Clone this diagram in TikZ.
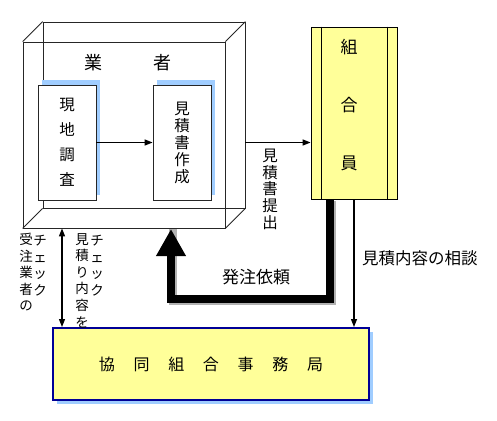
\documentclass[tikz,border=0pt]{standalone}
\usepackage{fontspec}
\newfontfamily\jpfont{Noto Sans CJK JP}
\usepackage{xcolor}
\usetikzlibrary{arrows.meta, positioning, shadows}
\definecolor{paleyellow}{RGB}{255,255,153}
\definecolor{paleblue}{RGB}{160,205,255}
\definecolor{deepblue}{RGB}{0,0,150}
\tikzset{
  % 3D box of the contractor
  face/.style={rectangle, draw=black!85, line width=0.8pt, minimum width=202pt, minimum height=186pt, inner sep=0pt},
  % work steps inside the box
  task/.style={rectangle, draw=black!85, line width=0.8pt, fill=white, minimum width=58pt, minimum height=115pt, inner sep=0pt, align=center, font=\jpfont\fontsize{15.5}{#1}\selectfont, drop shadow={shadow xshift=4pt, shadow yshift=5pt, fill=paleblue, opacity=1}},
  task/.default={17pt},
  member/.style={rectangle, draw=black, line width=0.8pt, fill=paleyellow, minimum width=86pt, minimum height=172pt, inner sep=0pt},
  office/.style={rectangle, draw=deepblue, line width=2pt, fill=paleyellow, minimum width=316pt, minimum height=72pt, inner sep=0pt, font=\jpfont\fontsize{16}{20}\selectfont, drop shadow={shadow xshift=4pt, shadow yshift=-4pt, fill=paleblue, opacity=1}},
  tag/.style={inner sep=0pt, align=center, font=\jpfont\fontsize{#1}{16.6}\selectfont},
  tag/.default={15.5},
  arrow/.style={-{Triangle[length=8pt, width=6pt]}, line width=1.3pt},
  twoway/.style={{Triangle[length=8pt, width=6pt]}-{Triangle[length=8pt, width=6pt]}, line width=1.3pt},
  bigarrow/.style={-{Triangle[length=27pt, width=28pt]}, line width=8pt, line join=miter},
}
\begin{document}
\begin{tikzpicture}[x=1pt, y=-1pt]
    \useasboundingbox (0,0) rectangle (497,420);
    % contractor box: back face, front face, edges
    \node[face] (vendorback) at (144,115) {};
    \node[face] (vendor) at (124,135) {};
    \foreach \c in {north west, north east, south east, south west} {
      \draw[black!85, line width=0.8pt] (vendor.\c) -- (vendorback.\c);
    }
    \node[tag=18] (vendorA) at (93,63) {業};
    \node[tag=18] (vendorB) at (162,63) {者};
    % steps
    \node[task=25pt] (survey) at (67,142.5) {現\\地\\調\\査};
    \node[task] (estimate) at (182,142.5) {見\\積\\書\\作\\成};
    \draw[arrow] (survey.east) -- (estimate.west);
    % member
    \node[member] (member) at (354,113) {};
    \draw[line width=0.8pt] ([xshift=11pt]member.north west) -- ([xshift=11pt]member.south west);
    \draw[line width=0.8pt] ([xshift=-10pt]member.north east) -- ([xshift=-10pt]member.south east);
    \node[tag, font=\jpfont\fontsize{17}{58}\selectfont] (membername) at (349,105) {組\\合\\員};
    \draw[arrow] (estimate.east -| vendorback.east) -- (estimate.east -| member.west);
    \node[tag, anchor=north] (submit) at (270,149) {見\\積\\書\\提\\出};
    % office
    \node[office] (office) at (211,364) {協\hspace{18.7pt}同\hspace{18.7pt}組\hspace{18.7pt}合\hspace{18.7pt}事\hspace{18.7pt}務\hspace{18.7pt}局};
    % order request
    \coordinate (orderfoot) at (171,299);
    \coordinate (ordertip) at (171,229);
    \draw[bigarrow, gray!60, -] ([xshift=-22.5pt, yshift=-1.5pt]member.south) |- ([xshift=1.5pt, yshift=-1.5pt]orderfoot) -- ([xshift=1.5pt]orderfoot |- ordertip);
    \draw[bigarrow] ([xshift=-24pt]member.south) |- (orderfoot) -- (ordertip);
    \node[tag=17] (order) at (256,277) {発注依頼};
    % consultation
    \draw[arrow] (member.south) -- (member.south |- office.north);
    \node[tag=16.5, anchor=west] (consult) at (362,258) {見積内容の相談};
    % checks
    \coordinate (checkline) at (62,0);
    \draw[twoway] (vendor.south -| checkline) -- (office.north -| checkline);
    \node[tag=13.5, anchor=north] (checkA) at (26,233) {受\\注\\業\\者\\の};
    \node[tag=13.5, anchor=north] (checkB) at (40,235) {チ\\ェ\\ッ\\ク};
    \node[tag=13.5, anchor=north] (checkC) at (82,233) {見\\積\\り\\内\\容\\を};
    \node[tag=13.5, anchor=north] (checkD) at (97,235) {チ\\ェ\\ッ\\ク};
\end{tikzpicture}
\end{document}
